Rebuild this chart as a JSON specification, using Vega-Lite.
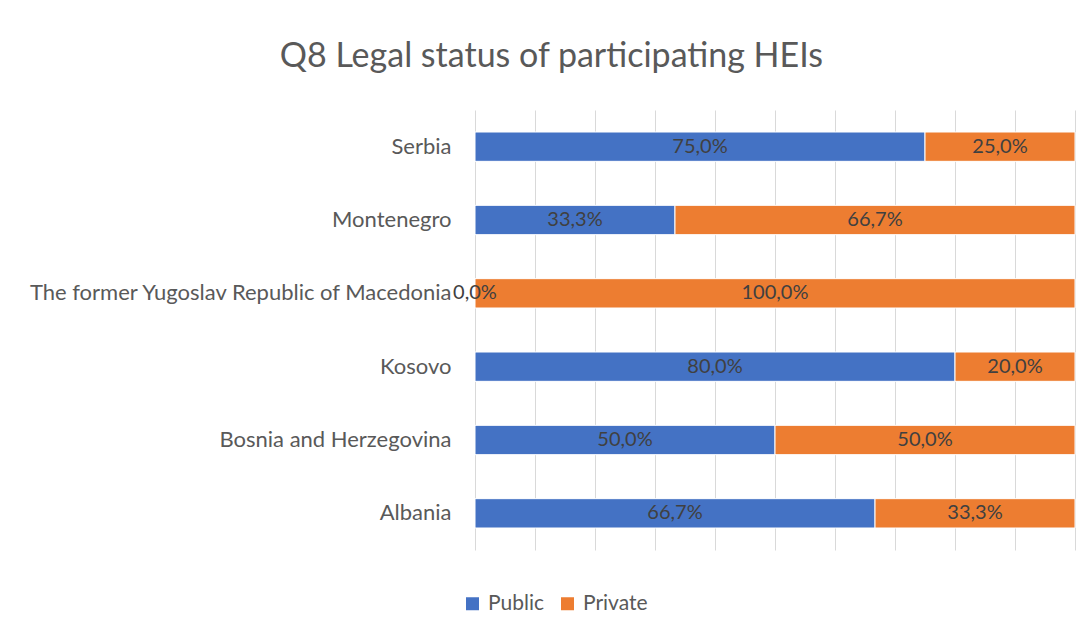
{
  "$schema": "https://vega.github.io/schema/vega-lite/v6.json",
  "width": 600,
  "height": 440,
  "autosize": {"type": "none"},
  "padding": {"left": 475, "top": 110, "right": 16, "bottom": 84},
  "background": "white",
  "title": {
    "text": "Q8 Legal status of participating HEIs",
    "anchor": "middle",
    "frame": "bounds",
    "font": "Lato",
    "fontSize": 34,
    "fontWeight": "normal",
    "color": "#595959",
    "offset": 36
  },
  "config": {
    "view": {"stroke": null},
    "locale": {"number": {"decimal": ",", "thousands": ".", "grouping": [3], "currency": ["", "€"]}}
  },
  "data": {
    "values": [
      {"country": "Serbia", "status": "Public", "value": 0.75},
      {"country": "Serbia", "status": "Private", "value": 0.25},
      {"country": "Montenegro", "status": "Public", "value": 0.3333},
      {"country": "Montenegro", "status": "Private", "value": 0.6667},
      {"country": "The former Yugoslav Republic of Macedonia", "status": "Public", "value": 0},
      {"country": "The former Yugoslav Republic of Macedonia", "status": "Private", "value": 1},
      {"country": "Kosovo", "status": "Public", "value": 0.8},
      {"country": "Kosovo", "status": "Private", "value": 0.2},
      {"country": "Bosnia and Herzegovina", "status": "Public", "value": 0.5},
      {"country": "Bosnia and Herzegovina", "status": "Private", "value": 0.5},
      {"country": "Albania", "status": "Public", "value": 0.6667},
      {"country": "Albania", "status": "Private", "value": 0.3333}
    ]
  },
  "transform": [
    {"stack": "value", "groupby": ["country"], "as": ["v0", "v1"], "sort": [{"field": "status", "order": "descending"}]},
    {"calculate": "(datum.v0 + datum.v1) / 2", "as": "mid"}
  ],
  "encoding": {
    "y": {
      "field": "country",
      "type": "nominal",
      "sort": ["Serbia", "Montenegro", "The former Yugoslav Republic of Macedonia", "Kosovo", "Bosnia and Herzegovina", "Albania"],
      "scale": {"paddingInner": 0.6, "paddingOuter": 0.3},
      "axis": {
        "title": null,
        "domain": false,
        "ticks": false,
        "labelFont": "Lato",
        "labelFontSize": 22,
        "labelColor": "#595959",
        "labelPadding": 24,
        "labelLimit": 600
      }
    }
  },
  "layer": [
    {
      "mark": {"type": "bar", "stroke": "white", "strokeWidth": 1},
      "encoding": {
        "x": {
          "field": "v0",
          "type": "quantitative",
          "scale": {"domain": [0, 1], "nice": false},
          "axis": {
            "title": null,
            "labels": false,
            "ticks": false,
            "domain": false,
            "grid": true,
            "gridColor": "#d9d9d9",
            "gridWidth": 1,
            "values": [0, 0.1, 0.2, 0.3, 0.4, 0.5, 0.6, 0.7, 0.8, 0.9, 1]
          }
        },
        "x2": {"field": "v1"},
        "color": {
          "field": "status",
          "type": "nominal",
          "sort": ["Public", "Private"],
          "scale": {"domain": ["Public", "Private"], "range": ["#4472C4", "#ED7D31"]},
          "legend": {
            "title": null,
            "orient": "none",
            "direction": "horizontal",
            "legendX": -13,
            "legendY": 483,
            "symbolType": "square",
            "symbolSize": 169,
            "symbolStrokeWidth": 0,
            "labelFont": "Lato",
            "labelFontSize": 21,
            "labelColor": "#595959",
            "columnPadding": 12,
            "labelOffset": 5
          }
        }
      }
    },
    {
      "mark": {"type": "text", "font": "Lato", "fontSize": 20, "color": "#404040", "align": "center", "baseline": "middle"},
      "encoding": {
        "x": {"field": "mid", "type": "quantitative"},
        "text": {"field": "value", "type": "quantitative", "format": ".1%"}
      }
    }
  ]
}
